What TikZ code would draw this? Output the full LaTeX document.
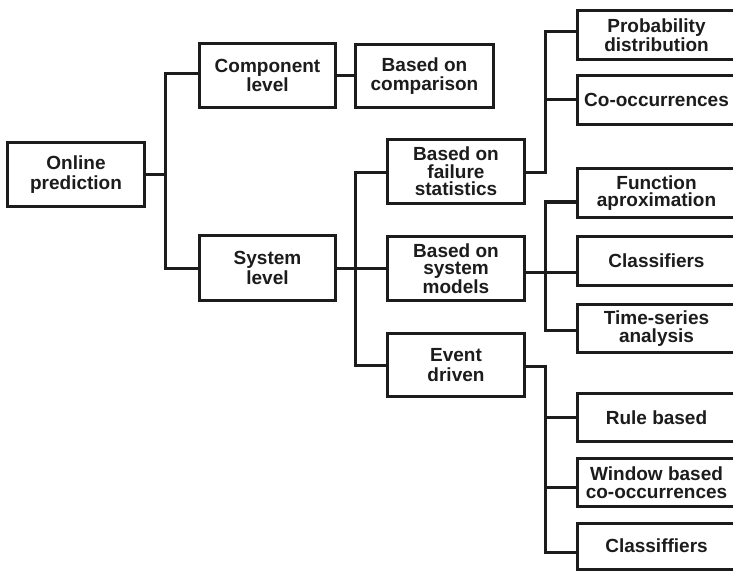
\documentclass[tikz,border=0pt]{standalone}
\usepackage{fontspec}
\setmainfont{Liberation Sans}
\usetikzlibrary{calc}
\definecolor{ink}{HTML}{1C1C1C}
\begin{document}
\begin{tikzpicture}[x=1pt,y=-1pt,
  box/.style={draw=ink,line width=3pt,fill=white,align=center,inner sep=0pt,
    text=ink,font=\bfseries\fontsize{19}{17.5}\selectfont},
  loose/.style={font=\bfseries\fontsize{19}{19.5}\selectfont},
  conn/.style={draw=ink,line width=3pt,line cap=rect}]
\useasboundingbox (0,0) rectangle (733,572);
\clip (0,0) rectangle (733,572);
% left part
\node[box,loose,minimum width=137pt,minimum height=64pt] (op) at (76,174.5) {Online\\prediction};
\node[box,loose,minimum width=136pt,minimum height=64pt] (comp) at (267.5,75.5) {Component\\level};
\node[box,loose,minimum width=136pt,minimum height=65pt] (sys) at (267.5,268) {System\\level};
\node[box,loose,minimum width=138pt,minimum height=63pt] (cmp) at (424.5,76) {Based on\\comparison};
\node[box,minimum width=137pt,minimum height=64pt] (fs) at (456,171.5) {Based on\\failure\\statistics};
\node[box,minimum width=137pt,minimum height=64pt] (sm) at (456,268.5) {Based on\\system\\models};
\node[box,loose,minimum width=137pt,minimum height=63pt] (ev) at (456,365) {Event\\driven};
% right column
\node[box,minimum width=158pt,minimum height=49pt] (pd) at (656.5,35) {Probability\\distribution};
\node[box,minimum width=158pt,minimum height=49pt] (co) at (656.5,100) {Co-occurrences};
\node[box,minimum width=158pt,minimum height=49pt] (fa) at (656.5,193) {Function\\aproximation};
\node[box,minimum width=158pt,minimum height=49pt] (cl) at (656.5,261) {Classifiers};
\node[box,minimum width=158pt,minimum height=48pt] (ts) at (656.5,328.5) {Time-series\\analysis};
\node[box,minimum width=158pt,minimum height=48pt] (rb) at (656.5,417.5) {Rule based};
\node[box,minimum width=158pt,minimum height=48pt] (wb) at (656.5,482.5) {Window based\\co-occurrences};
\node[box,minimum width=158pt,minimum height=46pt] (cf) at (656.5,546) {Classiffiers};
% bus coordinates
\coordinate (b1) at (165,174.5);
\coordinate (b2) at (355,268);
\coordinate (b3) at (545,0);
% connectors
\draw[conn] ([yshift=1.5pt]comp.west) -| (b1) |- (sys.west);
\draw[conn] (op.east) -- (b1);
\draw[conn] (comp.east) -- (comp.east -| cmp.west);
\draw[conn] ([yshift=-1.5pt]fs.west) -| (b2) |- (ev.west);
\draw[conn] (sys.east) -- (sys.east -| sm.west);
% failure statistics
\draw[conn] ([yshift=3pt]pd.west) -- ([yshift=3pt]pd.west -| b3) -- ([yshift=-1.5pt]fs.east -| b3) -- ([yshift=-1.5pt]fs.east);
\draw[conn] (co.west) -- (co.west -| b3);
% system models
\draw[conn] ([yshift=-9pt]fa.west) -- ([yshift=-9pt]fa.west -| b3) -- ([yshift=-1.5pt]ts.west -| b3) -- ([yshift=-1.5pt]ts.west);
\draw[conn] ([yshift=-3.5pt]sm.east) -- ([yshift=-3.5pt]sm.east -| cl.west);
% event driven
\draw[conn] ([yshift=-1.5pt]ev.east) -- ([yshift=-1.5pt]ev.east -| b3) -- ([yshift=-6pt]cf.west -| b3) -- ([yshift=-6pt]cf.west);
\draw[conn] (rb.west) -- (rb.west -| b3);
\draw[conn] ([yshift=-4.5pt]wb.west) -- ([yshift=-4.5pt]wb.west -| b3);
\end{tikzpicture}
\end{document}
